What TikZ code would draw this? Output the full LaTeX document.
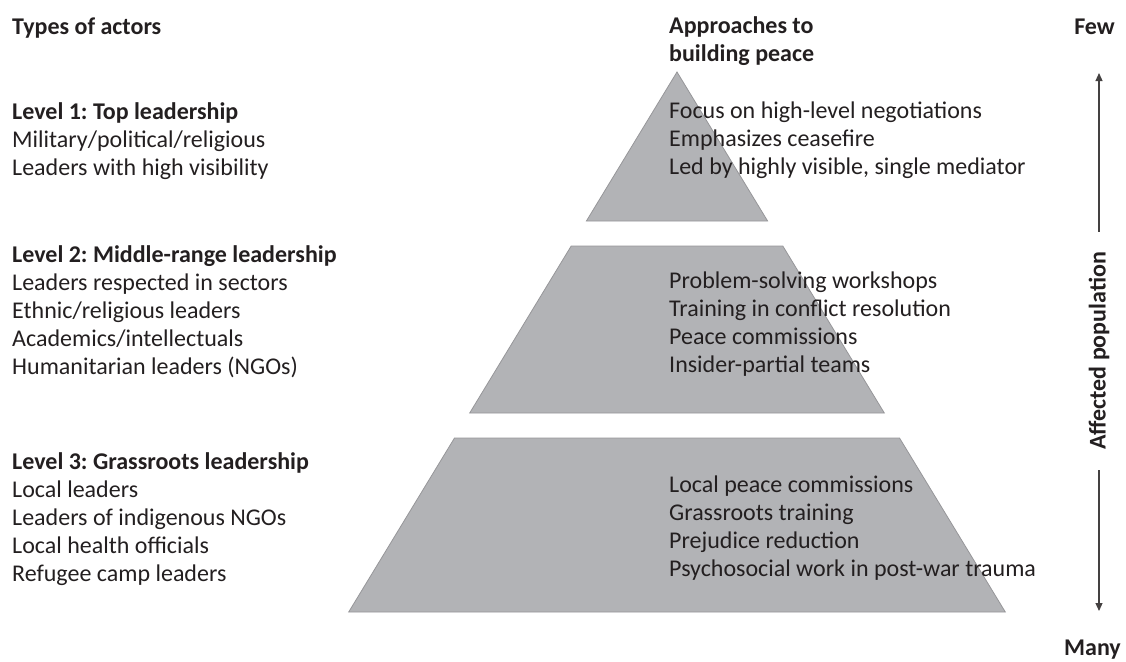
\documentclass[tikz,border=0pt]{standalone}
\usepackage{fontspec}
\setmainfont{Carlito}
\frenchspacing
\usetikzlibrary{arrows.meta}
\definecolor{inkgrey}{RGB}{35,31,32}
\definecolor{tierfill}{RGB}{178,179,182}
\definecolor{tieredge}{RGB}{150,150,153}

\begin{document}
\begin{tikzpicture}[
  x=1pt, y=-1pt,
  tier/.style={fill=tierfill, draw=tieredge, line width=0.8pt},
  txt/.style={inner sep=0pt, align=left, text=inkgrey, anchor=base west, font=\fontsize{24}{28}\selectfont},
  head/.style={txt, font=\fontsize{24}{28}\selectfont\bfseries},
  axis/.style={draw=inkgrey!85, line width=1.2pt, -{Triangle[length=8pt,width=7pt]}}
]
\useasboundingbox (0,0) rectangle (1126,661);

% the three tiers of one triangle
\draw[tier] (677,72) -- (767.6,221) -- (586.4,221) -- cycle;
\draw[tier] (571.2,246) -- (782.8,246) -- (884.3,413) -- (469.7,413) -- cycle;
\draw[tier] (454.5,438) -- (899.5,438) -- (1005.3,612) -- (348.7,612) -- cycle;

% column heads (base = last line)
\node[head] (actors) at (12,35) {Types of actors};
\node[head] (approaches) at (669,61) {Approaches to\\building peace};
\node[head, anchor=base east] (few) at (1115,35) {Few};
\node[head, anchor=base east] (many) at (1121,655) {Many};

% actors
\node[txt] (level1) at (12,175) {\textbf{Level 1: Top leadership}\\Military/political/religious\\Leaders with high visibility};
\node[txt] (level2) at (12,374) {\textbf{Level 2: Middle-range leadership}\\Leaders respected in sectors\\Ethnic/religious leaders\\Academics/intellectuals\\Humanitarian leaders (NGOs)};
\node[txt] (level3) at (12,581) {\textbf{Level 3: Grassroots leadership}\\Local leaders\\Leaders of indigenous NGOs\\Local health officials\\Refugee camp leaders};

% approaches
\node[txt] (top) at (669,174) {Focus on high-level negotiations\\Emphasizes ceasefire\\Led by highly visible, single mediator};
\node[txt] (middle) at (669,372) {Problem-solving workshops\\Training in conflict resolution\\Peace commissions\\Insider-partial teams};
\node[txt] (grass) at (669,576) {Local peace commissions\\Grassroots training\\Prejudice reduction\\Psychosocial work in post-war trauma};

% population axis
\node[head, anchor=center, rotate=90, inner xsep=20pt] (pop) at (1099,351) {Affected population};
\coordinate (fewtip) at (1099,73);
\coordinate (manytip) at (1099,611);
\draw[axis] (pop.east) -- (fewtip);
\draw[axis] (pop.west) -- (manytip);
\end{tikzpicture}
\end{document}
